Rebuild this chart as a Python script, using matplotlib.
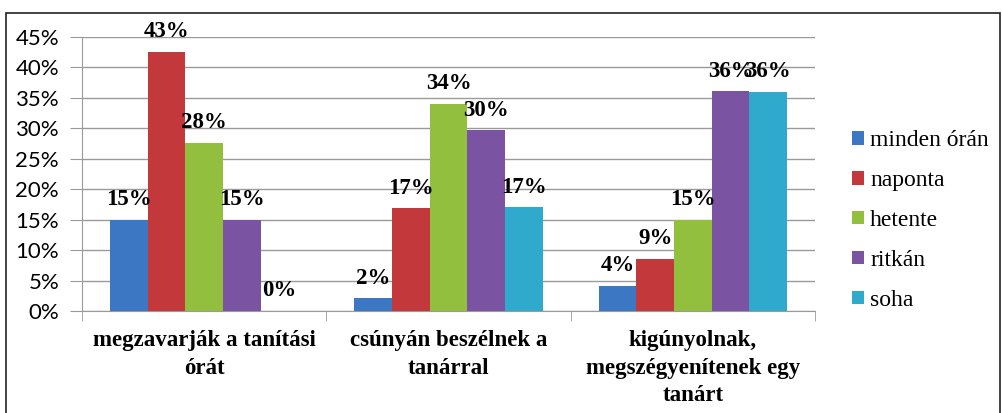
import matplotlib
matplotlib.use("Agg")
import matplotlib.pyplot as plt
from matplotlib.patches import Rectangle
from matplotlib.ticker import PercentFormatter
from matplotlib.font_manager import FontProperties

categories = ["megzavarják a tanítási\nórát",
              "csúnyán beszélnek a\ntanárral",
              "kigúnyolnak,\nmegszégyenítenek egy\ntanárt"]
series = ["minden órán", "naponta", "hetente", "ritkán", "soha"]
minden_oran = [0.15, 0.021, 0.041]
naponta = [0.426, 0.169, 0.086]
hetente = [0.276, 0.34, 0.15]
ritkan = [0.15, 0.297, 0.361]
soha = [0.0, 0.17, 0.36]
values = [minden_oran, naponta, hetente, ritkan, soha]
colors = ["#3B77C2", "#C3393B", "#93BF3F", "#7A54A2", "#2FAACC"]

fig = plt.figure(figsize=(10.03, 4.13), dpi=100)
# outer frame of the original picture
fig.patches.append(Rectangle((6 / 1003, -0.1), 994 / 1003, 1.1 - 13 / 413,
                             transform=fig.transFigure, fill=False,
                             edgecolor="#222222", linewidth=1.2))

ax = fig.add_axes([82 / 1003, 102 / 413, 733 / 1003, 274 / 413])
w = 0.154
x = range(len(categories))
for i, (name, vals, c) in enumerate(zip(series, values, colors)):
    pos = [k + (i - 2) * w for k in x]
    ax.bar(pos, vals, width=w, color=c, label=name, zorder=3)
    for p, v in zip(pos, vals):
        ax.text(p, v + 0.033, f"{round(v * 100):.0f}%", ha="center", va="center",
                family="Liberation Serif", fontweight="bold", fontsize=16.5, zorder=4)

ax.set_xlim(-0.5, 2.5)
ax.set_ylim(0, 0.45)
ax.set_yticks([i * 0.05 for i in range(10)])
ax.yaxis.set_major_formatter(PercentFormatter(1.0, decimals=0))
ax.grid(axis="y", color="#9a9a9a", linewidth=1, zorder=0)
for s in ["top", "right"]:
    ax.spines[s].set_visible(False)
for s in ["left", "bottom"]:
    ax.spines[s].set_color("#9a9a9a")
ax.tick_params(axis="y", length=9, color="#9a9a9a", pad=7.5, labelsize=16)
for t in ax.get_yticklabels():
    t.set_family("Lato")

ax.set_xticks(list(x))
ax.set_xticklabels(categories, family="Liberation Serif", fontweight="bold",
                   fontsize=16.5, linespacing=1.4)
ax.tick_params(axis="x", which="major", length=0, pad=14)
ax.set_xticks([-0.5, 0.5, 1.5, 2.5], minor=True)
ax.tick_params(axis="x", which="minor", length=7, color="#9a9a9a")

leg = ax.legend(loc="center left", bbox_to_anchor=(1.022, 0.33), frameon=False,
                prop=FontProperties(family="Liberation Serif", size=17),
                handlelength=0.5, handleheight=0.5,
                handletextpad=0.25, labelspacing=0.8)

fig.savefig("out.png", dpi=100)
